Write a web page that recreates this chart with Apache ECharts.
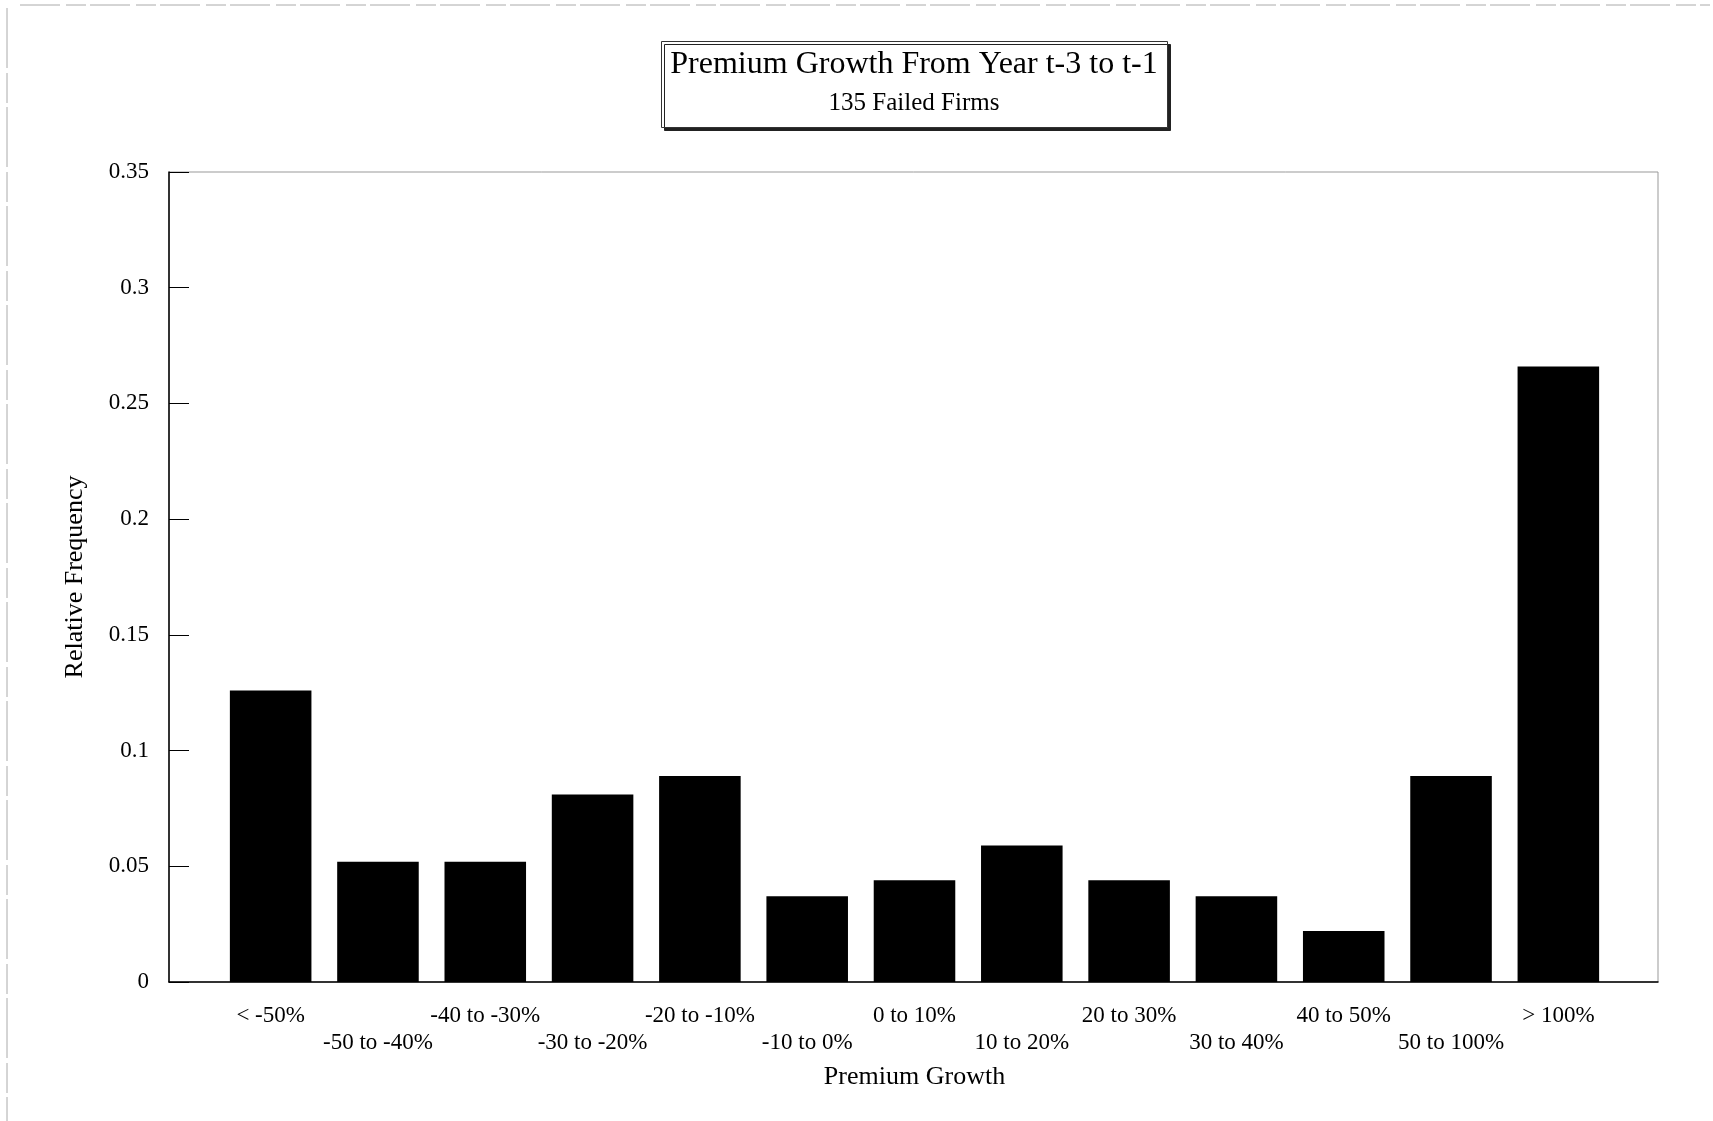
<!DOCTYPE html>
<html>
<head>
<meta charset="utf-8">
<script src="https://cdn.jsdelivr.net/npm/echarts@6/dist/echarts.min.js"></script>
<style>
html,body{margin:0;padding:0;background:#fff;}
#chart{width:1713px;height:1121px;}
</style>
</head>
<body>
<div id="chart"></div>
<script>
const categories = ['< -50%', '-50 to -40%', '-40 to -30%', '-30 to -20%', '-20 to -10%', '-10 to 0%', '0 to 10%', '10 to 20%', '20 to 30%', '30 to 40%', '40 to 50%', '50 to 100%', '> 100%'];
const relativeFrequency = [0.126, 0.052, 0.052, 0.081, 0.089, 0.037, 0.044, 0.059, 0.044, 0.037, 0.022, 0.089, 0.266];
const yTicks = { min: 0, max: 0.35, interval: 0.05 };
const titleText = 'Premium Growth From Year t-3 to t-1';
const subtitleText = '135 Failed Firms';
const xName = 'Premium Growth';
const yName = 'Relative Frequency';

const FONT = '"Liberation Serif", "Times New Roman", serif';
const TOP = 172, BOTTOM = 139;
const chart = echarts.init(document.getElementById('chart'), null, {renderer: 'canvas'});
chart.setOption({
  animation: false,
  backgroundColor: '#fff',
  title: {
    text: titleText,
    subtext: subtitleText,
    left: 905,
    top: 41,
    textAlign: 'center',
    itemGap: 10,
    padding: [8, 10, 12, 9],
    backgroundColor: '#fff',
    borderColor: '#333',
    borderWidth: 1,
    shadowColor: '#222',
    shadowBlur: 0,
    shadowOffsetX: 3,
    shadowOffsetY: 3,
    textStyle: {fontFamily: FONT, fontSize: 32, fontWeight: 'normal', color: '#000'},
    subtextStyle: {fontFamily: FONT, fontSize: 25, color: '#000'}
  },
  graphic: [
    {type: 'line', shape: {x1: 20, y1: 5, x2: 1710, y2: 5}, style: {stroke: '#aaa', lineWidth: 1, lineDash: [40, 6, 20, 4]}, silent: true},
    {type: 'line', shape: {x1: 7, y1: 8, x2: 7, y2: 1121}, style: {stroke: '#aaa', lineWidth: 1, lineDash: [60, 5, 30, 4]}, silent: true}
  ],
  grid: [
    {left: 169, right: 55, top: TOP, bottom: BOTTOM, show: true, borderColor: '#999', borderWidth: 1, backgroundColor: 'transparent'},
    {left: 217, right: 101, top: TOP, bottom: BOTTOM}
  ],
  xAxis: [
    {
      gridIndex: 0, type: 'value', min: 0, max: 1,
      axisLine: {show: true, onZero: false, lineStyle: {color: '#000', width: 1.5}},
      axisTick: {show: false}, axisLabel: {show: false}, splitLine: {show: false}
    },
    {
      gridIndex: 1,
      type: 'category',
      data: categories,
      name: xName,
      nameLocation: 'middle',
      nameGap: 82,
      nameTextStyle: {fontFamily: FONT, fontSize: 26, color: '#000'},
      axisLine: {show: false},
      axisTick: {show: false},
      axisLabel: {
        interval: 0,
        margin: 20,
        fontFamily: FONT, fontSize: 23, color: '#000', lineHeight: 27,
        formatter: function (v, i) { return i % 2 ? '\n' + v : v; }
      }
    }
  ],
  yAxis: [
    {
      gridIndex: 0,
      type: 'value',
      min: yTicks.min, max: yTicks.max, interval: yTicks.interval,
      name: yName,
      nameLocation: 'middle',
      nameGap: 81,
      nameRotate: 90,
      nameTextStyle: {fontFamily: FONT, fontSize: 26, color: '#000'},
      axisLine: {show: true, lineStyle: {color: '#000', width: 1.5}},
      axisTick: {show: true, inside: true, length: 20, lineStyle: {color: '#000'}},
      splitLine: {show: false},
      axisLabel: {
        margin: 20,
        fontFamily: FONT, fontSize: 23, color: '#000',
        formatter: function (v) { return String(parseFloat(v.toFixed(2))); }
      }
    },
    {
      gridIndex: 1, type: 'value',
      min: yTicks.min, max: yTicks.max, interval: yTicks.interval,
      show: false
    }
  ],
  series: [{
    type: 'bar',
    xAxisIndex: 1, yAxisIndex: 1,
    data: relativeFrequency,
    barCategoryGap: '24%',
    itemStyle: {color: '#000'}
  }]
});
</script>
</body>
</html>
